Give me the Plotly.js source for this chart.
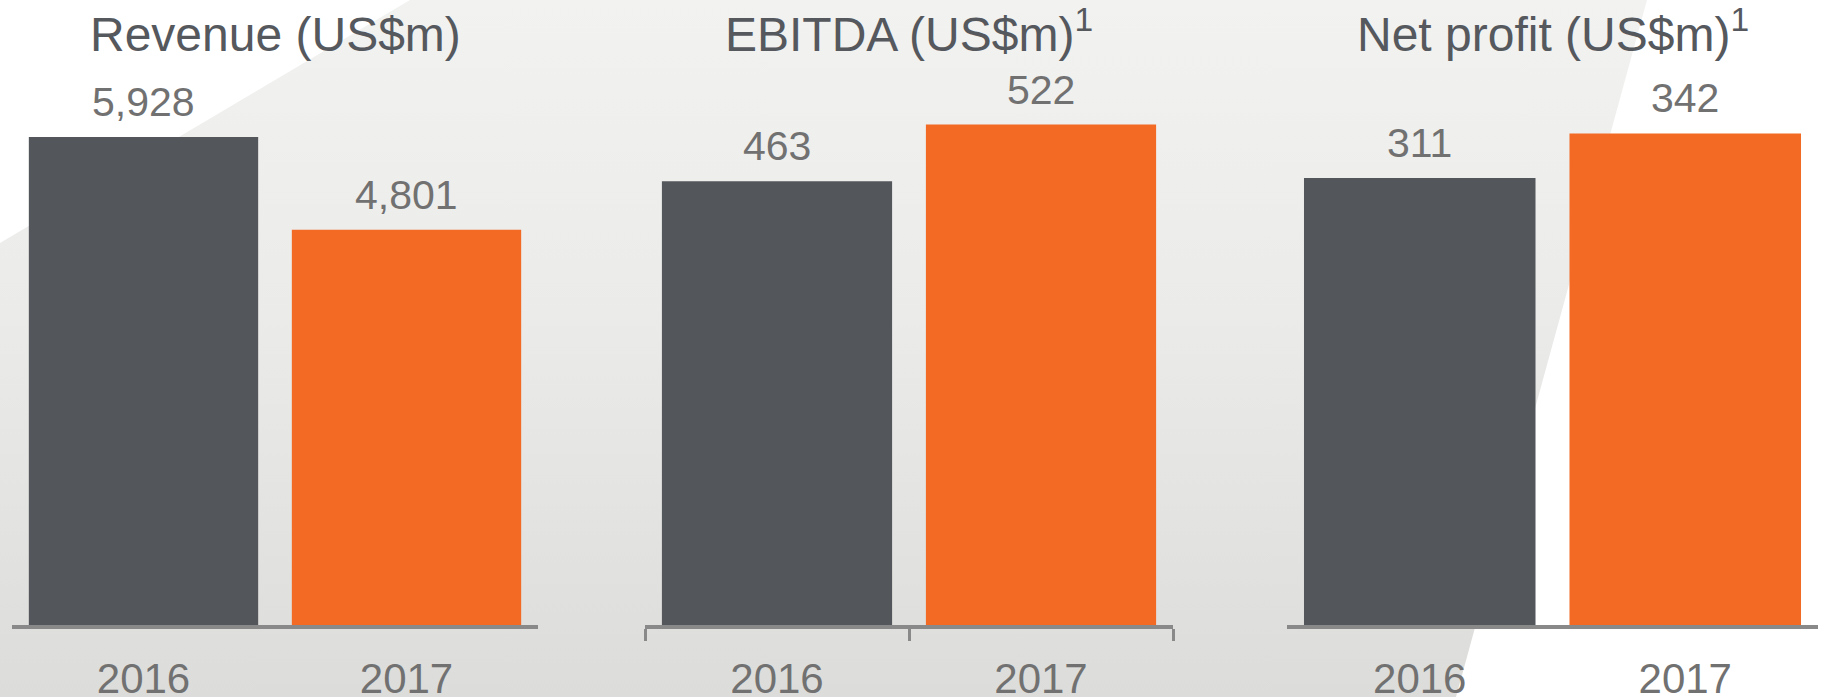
<!DOCTYPE html>
<html>
<head>
<meta charset="utf-8">
<script src="https://cdn.plot.ly/plotly-3.0.1.min.js"></script>
<style>
  html, body { margin: 0; padding: 0; }
  #wrap { position: relative; width: 1821px; height: 697px; overflow: hidden;
          background: linear-gradient(to bottom, #f2f2f1 0%, #ebebea 45%, #dcdcda 100%); }
  #bg { position: absolute; left: 0; top: 0; }
  #chart { position: absolute; left: 0; top: 0; width: 1821px; height: 697px; }
</style>
</head>
<body>
<div id="wrap">
  <svg id="bg" width="1821" height="697">
    <polygon points="0,0 410,0 0,243" fill="#ffffff"/>
    <polygon points="1647,0 1821,0 1821,697 1456,697" fill="#ffffff"/>
  </svg>
  <div id="chart"></div>
</div>
<script>
// ---- data ----
const years = ['2016', '2017'];
const revenue = [5928, 4801];
const ebitda = [463, 522];
const netProfit = [311, 342];
const panelTitles = ['Revenue (US$m)', 'EBITDA (US$m)<sup>1</sup>', 'Net profit (US$m)<sup>1</sup>'];
const barColors = ['#53565b', '#f26a23'];

const FONT = 'Liberation Sans, Arial, sans-serif';
const series = [revenue, ebitda, netProfit];
const axisIds = ['', '2', '3'];

const traces = series.map((vals, i) => ({
  type: 'bar',
  x: years,
  y: vals,
  xaxis: 'x' + axisIds[i],
  yaxis: 'y' + axisIds[i],
  marker: { color: barColors, line: { width: 0 } },
  hoverinfo: 'skip',
  showlegend: false
}));

const annotations = [];
series.forEach((vals, i) => {
  vals.forEach((v, j) => {
    annotations.push({
      xref: 'x' + axisIds[i], yref: 'y' + axisIds[i],
      x: j, y: v,   // category index of years[j]
      text: v.toLocaleString('en-US'),
      showarrow: false, yanchor: 'bottom', xanchor: 'center',
      yshift: 10,
      font: { family: FONT, size: 41, color: '#717171' }
    });
  });
  annotations.push({
    xref: 'x' + axisIds[i] + ' domain', yref: 'paper',
    x: 0.5, y: 1, yshift: -63,
    text: panelTitles[i],
    showarrow: false, yanchor: 'bottom', xanchor: 'center',
    font: { family: FONT, size: 48, color: '#55585d' }
  });
});

const W = 1821;
const domains = [[12 / W, 538 / W], [645 / W, 1173 / W], [1287 / W, 1818 / W]];
const yRanges = [[0, 7592], [0, 652], [0, 434.8]];

function xAxis(i, withTicks) {
  return {
    domain: domains[i],
    anchor: 'y' + axisIds[i],
    type: 'category',
    categoryorder: 'array', categoryarray: years,
    range: [-0.5, years.length - 0.5],
    showline: true, linecolor: '#898989', linewidth: 4,
    showgrid: false, zeroline: false,
    ticks: withTicks ? 'outside' : '',
    tickson: 'boundaries',
    ticklen: withTicks ? 12 : 0, tickwidth: 3, tickcolor: '#898989',
    ticklabelstandoff: 14,
    tickangle: 0,
    tickfont: { family: FONT, size: 42, color: '#717171' },
    fixedrange: true
  };
}
function yAxis(i) {
  return {
    domain: [0, 1],
    anchor: 'x' + axisIds[i],
    range: yRanges[i],
    visible: false, showgrid: false, zeroline: false,
    fixedrange: true
  };
}

const layout = {
  width: 1821, height: 697,
  margin: { l: 0, r: 0, t: 0, b: 72, pad: 0 },
  paper_bgcolor: 'rgba(0,0,0,0)',
  plot_bgcolor: 'rgba(0,0,0,0)',
  bargap: 0.128,
  showlegend: false,
  xaxis: xAxis(0, false), yaxis: yAxis(0),
  xaxis2: xAxis(1, true), yaxis2: yAxis(1),
  xaxis3: xAxis(2, false), yaxis3: yAxis(2),
  annotations: annotations,
  font: { family: FONT }
};

Plotly.newPlot('chart', traces, layout, { displayModeBar: false, staticPlot: true });
</script>
</body>
</html>
